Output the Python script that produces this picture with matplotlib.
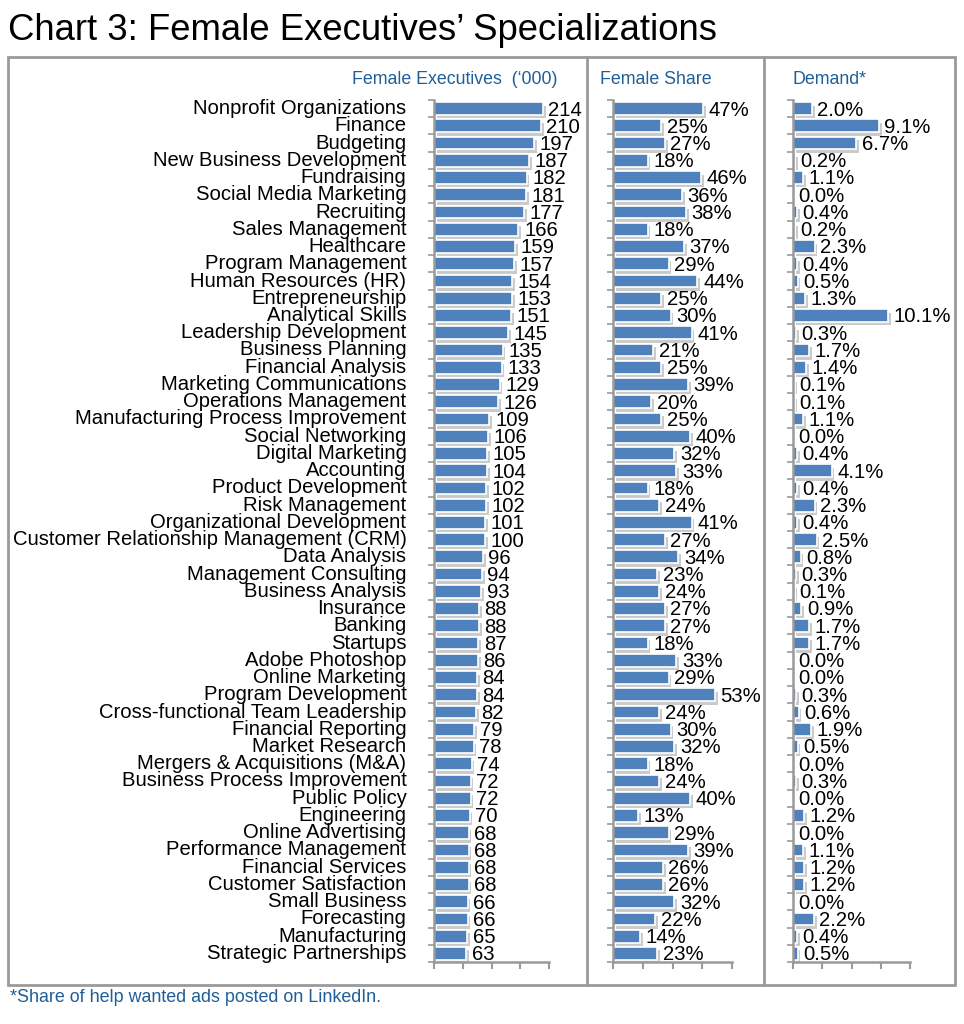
import numpy as np
import matplotlib.pyplot as plt
import matplotlib.patheffects as pe
from matplotlib.patches import Rectangle
from matplotlib.lines import Line2D

plt.rcParams['font.family'] = ['Liberation Sans', 'DejaVu Sans']

# data, read top to bottom
specializations = [
    'Nonprofit Organizations', 'Finance', 'Budgeting', 'New Business Development',
    'Fundraising', 'Social Media Marketing', 'Recruiting', 'Sales Management',
    'Healthcare', 'Program Management', 'Human Resources (HR)', 'Entrepreneurship',
    'Analytical Skills', 'Leadership Development', 'Business Planning',
    'Financial Analysis', 'Marketing Communications', 'Operations Management',
    'Manufacturing Process Improvement', 'Social Networking', 'Digital Marketing',
    'Accounting', 'Product Development', 'Risk Management',
    'Organizational Development', 'Customer Relationship Management (CRM)',
    'Data Analysis', 'Management Consulting', 'Business Analysis', 'Insurance',
    'Banking', 'Startups', 'Adobe Photoshop', 'Online Marketing',
    'Program Development', 'Cross-functional Team Leadership',
    'Financial Reporting', 'Market Research', 'Mergers & Acquisitions (M&A)',
    'Business Process Improvement', 'Public Policy', 'Engineering',
    'Online Advertising', 'Performance Management', 'Financial Services',
    'Customer Satisfaction', 'Small Business', 'Forecasting', 'Manufacturing',
    'Strategic Partnerships',
]
female_execs = [214, 210, 197, 187, 182, 181, 177, 166, 159, 157, 154, 153, 151,
                145, 135, 133, 129, 126, 109, 106, 105, 104, 102, 102, 101, 100,
                96, 94, 93, 88, 88, 87, 86, 84, 84, 82, 79, 78, 74, 72, 72, 70,
                68, 68, 68, 68, 66, 66, 65, 63]
female_share = [47, 25, 27, 18, 46, 36, 38, 18, 37, 29, 44, 25, 30, 41, 21, 25,
                39, 20, 25, 40, 32, 33, 18, 24, 41, 27, 34, 23, 24, 27, 27, 18,
                33, 29, 53, 24, 30, 32, 18, 24, 40, 13, 29, 39, 26, 26, 32, 22,
                14, 23]
demand = [2.0, 9.1, 6.7, 0.2, 1.1, 0.0, 0.4, 0.2, 2.3, 0.4, 0.5, 1.3, 10.1, 0.3,
          1.7, 1.4, 0.1, 0.1, 1.1, 0.0, 0.4, 4.1, 0.4, 2.3, 0.4, 2.5, 0.8, 0.3,
          0.1, 0.9, 1.7, 1.7, 0.0, 0.0, 0.3, 0.6, 1.9, 0.5, 0.0, 0.3, 0.0, 1.2,
          0.0, 1.1, 1.2, 1.2, 0.0, 2.2, 0.4, 0.5]

panel_titles = ["Female Executives  (\u2018000)", 'Female Share', 'Demand*']

BAR_COLOR = '#4F81BD'
HEAD_COLOR = '#1F5F99'
GREY = '#9A9A9A'

W, H = 964, 1024
fig = plt.figure(figsize=(W / 100, H / 100), dpi=100)

def px(x0, y0, x1, y1):
    # pixel box -> figure rect
    return [x0 / W, 1 - y1 / H, (x1 - x0) / W, (y1 - y0) / H]

y = np.arange(len(specializations))
shadow = [pe.SimplePatchShadow(offset=(2, -2.5), shadow_rgbFace='#555555', alpha=0.3),
          pe.Normal()]

panels = [
    (female_execs, px(434, 100, 549, 962), 226, lambda v: f'{v}'),
    (female_share, px(613, 100, 732, 962), 62, lambda v: f'{v}%'),
    (demand, px(793, 100, 910, 962), 12.4, lambda v: f'{v:.1f}%'),
]

for i, (vals, rect, xmax, fmt) in enumerate(panels):
    ax = fig.add_axes(rect)
    bars = ax.barh(y, vals, height=0.74, color=BAR_COLOR, edgecolor='white', linewidth=1.2)
    for b, v in zip(bars, vals):
        b.set_path_effects(shadow)
        if v == 0:
            b.set_visible(False)
    for yi, v in zip(y, vals):
        ax.annotate(fmt(v), (v, yi), xytext=(4, -1), textcoords='offset points',
                    va='center', ha='left', fontsize=14.6, color='black')
    ax.set_ylim(len(y) - 0.5, -0.5)
    ax.set_xlim(0, xmax)
    ax.set_xticks(np.linspace(0, xmax, 5))
    ax.set_xticklabels([])
    ax.set_yticks(np.arange(-0.5, len(y), 1.0))
    ax.set_yticklabels([])
    ax.tick_params(axis='y', length=4, width=1.2, color=GREY, direction='out')
    ax.tick_params(axis='x', length=5, width=1.5, color=GREY, direction='out')
    for s in ['top', 'right']:
        ax.spines[s].set_visible(False)
    for s in ['left', 'bottom']:
        ax.spines[s].set_color(GREY)
        ax.spines[s].set_linewidth(1.8)
    if i == 0:
        for yi, name in zip(y, specializations):
            ax.text(-0.24, yi, name, transform=ax.get_yaxis_transform(),
                    ha='right', va='center', fontsize=14.6)

# panel headers
fig.text(558 / W, 1 - 79 / H, panel_titles[0], ha='right', va='center', fontsize=12.8, color=HEAD_COLOR)
fig.text(600 / W, 1 - 79 / H, panel_titles[1], ha='left', va='center', fontsize=12.8, color=HEAD_COLOR)
fig.text(793 / W, 1 - 79 / H, panel_titles[2], ha='left', va='center', fontsize=12.8, color=HEAD_COLOR)

# outer frame and dividers
fig.patches.append(Rectangle((8 / W, 1 - 985 / H), (955 - 8) / W, (985 - 57) / H,
                             transform=fig.transFigure, fill=False, edgecolor=GREY, linewidth=2))
for xd in [587, 764]:
    fig.lines.append(Line2D([xd / W, xd / W], [1 - 985 / H, 1 - 57 / H],
                            transform=fig.transFigure, color=GREY, linewidth=2))

fig.text(8 / W, 1 - 30 / H, 'Chart 3: Female Executives\u2019 Specializations',
         ha='left', va='center', fontsize=26.3)
fig.text(10 / W, 1 - 997 / H, '*Share of help wanted ads posted on LinkedIn.',
         ha='left', va='center', fontsize=12.9, color=HEAD_COLOR)

plt.savefig('out.png', dpi=100)
